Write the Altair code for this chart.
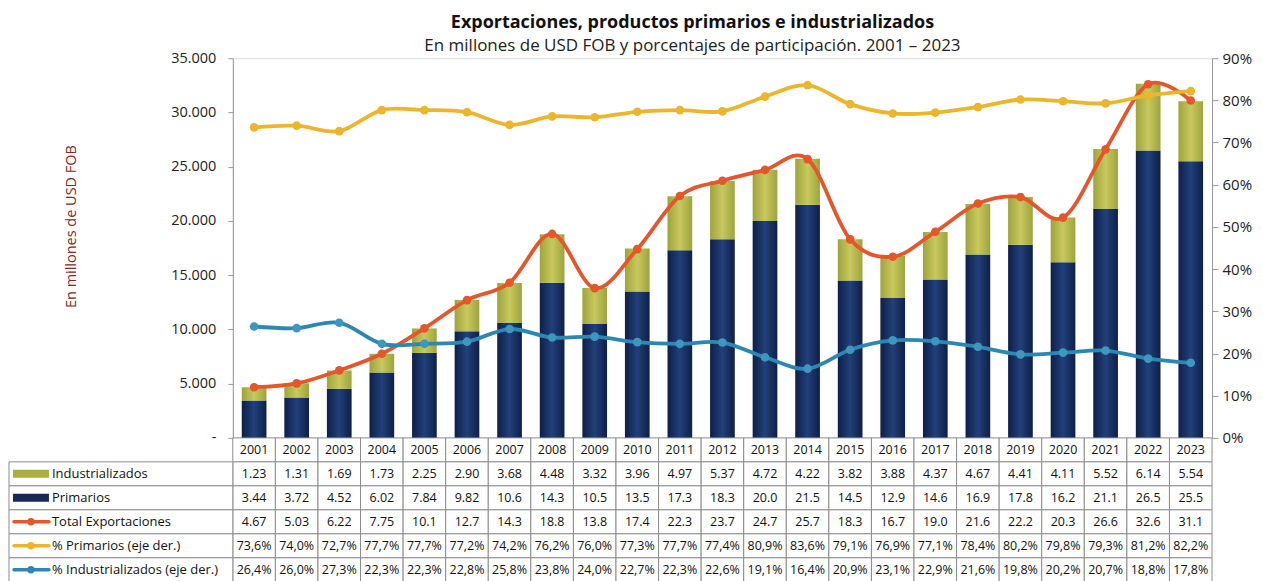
import altair as alt
import pandas as pd

years = [str(y) for y in range(2001, 2024)]
industrializados = [1.23, 1.31, 1.69, 1.73, 2.25, 2.90, 3.68, 4.48, 3.32, 3.96, 4.97, 5.37, 4.72,
                    4.22, 3.82, 3.88, 4.37, 4.67, 4.41, 4.11, 5.52, 6.14, 5.54]
primarios = [3.44, 3.72, 4.52, 6.02, 7.84, 9.82, 10.6, 14.3, 10.5, 13.5, 17.3, 18.3, 20.0,
             21.5, 14.5, 12.9, 14.6, 16.9, 17.8, 16.2, 21.1, 26.5, 25.5]
total = [4.67, 5.03, 6.22, 7.75, 10.1, 12.7, 14.3, 18.8, 13.8, 17.4, 22.3, 23.7, 24.7,
         25.7, 18.3, 16.7, 19.0, 21.6, 22.2, 20.3, 26.6, 32.6, 31.1]
pct_primarios = [73.6, 74.0, 72.7, 77.7, 77.7, 77.2, 74.2, 76.2, 76.0, 77.3, 77.7, 77.4, 80.9,
                 83.6, 79.1, 76.9, 77.1, 78.4, 80.2, 79.8, 79.3, 81.2, 82.2]
pct_industrializados = [26.4, 26.0, 27.3, 22.3, 22.3, 22.8, 25.8, 23.8, 24.0, 22.7, 22.3, 22.6, 19.1,
                        16.4, 20.9, 23.1, 22.9, 21.6, 19.8, 20.2, 20.7, 18.8, 17.8]

row_names = ["Industrializados", "Primarios", "Total Exportaciones",
             "% Primarios (eje der.)", "% Industrializados (eje der.)"]
row_colors = ["#A9AE45", "#172A55", "#E4562B", "#EBB62E", "#2C88B2"]

FONT = "Open Sans"
C_TOTAL = "#E4562B"
C_PP = "#EBB62E"
C_PI = "#2C88B2"

df = pd.DataFrame({
    "year": years,
    "prim": [p * 1000 for p in primarios],
    "top": [(p + i) * 1000 for p, i in zip(primarios, industrializados)],
    "total": [t * 1000 for t in total],
    "pp": [v / 100 for v in pct_primarios],
    "pi": [v / 100 for v in pct_industrializados],
})

W, H = 980, 380
ROW_H = 24

x_main = alt.X("year:N", sort=years, axis=None,
               scale=alt.Scale(domain=years, paddingInner=0.42, paddingOuter=0.21))

left_axis = alt.Axis(values=list(range(0, 35001, 5000)), grid=False,
                     labelExpr="datum.value == 0 ? '-' : replace(format(datum.value, ','), ',', '.')",
                     domainColor="#9a9a9a", tickColor="#9a9a9a", tickSize=5,
                     labelFontSize=14.5, labelColor="#222", labelPadding=12,
                     titleColor="#7E2A1C", titleFontSize=14.5, titleFontWeight="normal",
                     titlePadding=92, titleY=168)
right_axis = alt.Axis(orient="right", values=[i / 10 for i in range(10)], format=".0%", grid=False,
                      domainColor="#9a9a9a", tickColor="#9a9a9a", tickSize=6,
                      labelFontSize=15, labelColor="#222", labelPadding=4, title=None)


def yl(field):
    return alt.Y(field, type="quantitative", scale=alt.Scale(domain=[0, 35000]),
                 axis=left_axis, title="En millones de USD FOB")


def yr(field):
    return alt.Y(field, type="quantitative", scale=alt.Scale(domain=[0, 0.9]), axis=right_axis)


grad_prim = alt.Gradient(gradient="linear", x1=0, x2=1, y1=0, y2=0,
                         stops=[alt.GradientStop(color="#0F1F48", offset=0),
                                alt.GradientStop(color="#21407A", offset=0.5),
                                alt.GradientStop(color="#0F1F48", offset=1)])
grad_ind = alt.Gradient(gradient="linear", x1=0, x2=1, y1=0, y2=0,
                        stops=[alt.GradientStop(color="#9DA43C", offset=0),
                               alt.GradientStop(color="#C8C85E", offset=0.5),
                               alt.GradientStop(color="#9DA43C", offset=1)])

base = alt.Chart(df)
bar_prim = base.mark_bar(color=grad_prim).encode(x=x_main, y=yl("prim"))
bar_ind = base.mark_bar(color=grad_ind).encode(x=x_main, y=yl("prim"), y2="top:Q")
tot_line = base.mark_line(color=C_TOTAL, strokeWidth=3.8, interpolate="cardinal").encode(x=x_main, y=yl("total"))
tot_pts = base.mark_circle(color=C_TOTAL, size=75, opacity=1).encode(x=x_main, y=yl("total"))

pp_line = base.mark_line(color=C_PP, strokeWidth=3.8, interpolate="cardinal").encode(x=x_main, y=yr("pp"))
pp_pts = base.mark_circle(color=C_PP, size=75, opacity=1).encode(x=x_main, y=yr("pp"))
pi_line = base.mark_line(color=C_PI, strokeWidth=3.8, interpolate="cardinal").encode(x=x_main, y=yr("pi"))
pi_pts = base.mark_circle(color="#3D97BF", size=75, opacity=1).encode(x=x_main, y=yr("pi"))

left = alt.layer(bar_prim, bar_ind, tot_line, tot_pts)
right = alt.layer(pp_line, pp_pts, pi_line, pi_pts)


# ---- data table (drawn under the plot area through its own band scales) ----
def f3(v):
    return f"{v:.2f}" if v < 10 else f"{v:.1f}"


def fp(v):
    return f"{v:.1f}%".replace(".", ",")


rows_all = ["year"] + row_names
recs = []
for k, y in enumerate(years):
    recs.append({"year": y, "row": "year", "txt": y})
    recs.append({"year": y, "row": row_names[0], "txt": f3(industrializados[k])})
    recs.append({"year": y, "row": row_names[1], "txt": f3(primarios[k])})
    recs.append({"year": y, "row": row_names[2], "txt": f3(total[k])})
    recs.append({"year": y, "row": row_names[3], "txt": fp(pct_primarios[k])})
    recs.append({"year": y, "row": row_names[4], "txt": fp(pct_industrializados[k])})
tdf = pd.DataFrame(recs)
ldf = pd.DataFrame({"row": row_names})

tab_scale = alt.Scale(domain=rows_all, range=[H, H + ROW_H * len(rows_all)],
                      paddingInner=0, paddingOuter=0)
x_tab = alt.X("year:N", sort=years, axis=None,
              scale=alt.Scale(domain=years, paddingInner=0, paddingOuter=0))
y_tab = alt.Y("row:N", axis=None, scale=tab_scale)
y_tab_c = alt.Y("row:N", axis=None, bandPosition=0.5, scale=tab_scale)
col = alt.Color("row:N", scale=alt.Scale(domain=row_names, range=row_colors), legend=None)

cells = alt.Chart(tdf).mark_rect(fill="white", stroke="#8c8c8c", strokeWidth=1).encode(x=x_tab, y=y_tab)
ctext = alt.Chart(tdf).mark_text(font=FONT, fontSize=12.5, color="#111").encode(x=x_tab, y=y_tab_c, text="txt:N")
lcells = alt.Chart(ldf).mark_rect(fill="white", stroke="#8c8c8c", strokeWidth=1).encode(
    x=alt.value(-224), x2=alt.value(0), y=y_tab)
ltext = alt.Chart(ldf).mark_text(font=FONT, fontSize=13, align="left", color="#111").encode(
    x=alt.value(-181), y=y_tab_c, text="row:N")
sw_bar = alt.Chart(ldf).transform_filter(
    alt.FieldOneOfPredicate(field="row", oneOf=row_names[:2])
).mark_rule(strokeWidth=8, strokeCap="butt").encode(
    x=alt.value(-220), x2=alt.value(-184), y=y_tab_c, color=col)
sw_line = alt.Chart(ldf).transform_filter(
    alt.FieldOneOfPredicate(field="row", oneOf=row_names[2:])
).mark_rule(strokeWidth=3.5, strokeCap="round").encode(
    x=alt.value(-219), x2=alt.value(-184), y=y_tab_c, color=col)
sw_pt = alt.Chart(ldf).transform_filter(
    alt.FieldOneOfPredicate(field="row", oneOf=row_names[2:])
).mark_circle(size=55, opacity=1).encode(x=alt.value(-202), y=y_tab_c, color=col)

table = alt.layer(cells, ctext, lcells, ltext, sw_bar, sw_line, sw_pt)

chart = alt.layer(left, right, table).resolve_scale(
    y="independent", x="independent", color="independent"
).properties(
    width=W, height=H,
    padding={"left": 0, "top": 6, "right": 3, "bottom": 0},
    title=alt.TitleParams(
        text="Exportaciones, productos primarios e industrializados",
        subtitle="En millones de USD FOB y porcentajes de participación. 2001 – 2023",
        fontSize=18, fontWeight="bold", subtitleFontSize=17, subtitleColor="#222",
        color="#111", anchor="middle", font=FONT, subtitleFont=FONT, offset=-4, subtitlePadding=6,
        dx=-30)
).configure_view(stroke=None).configure(font=FONT).configure_axis(labelFont=FONT, titleFont=FONT)

chart.save("out.html", embed_options={"renderer": "svg", "actions": False})
